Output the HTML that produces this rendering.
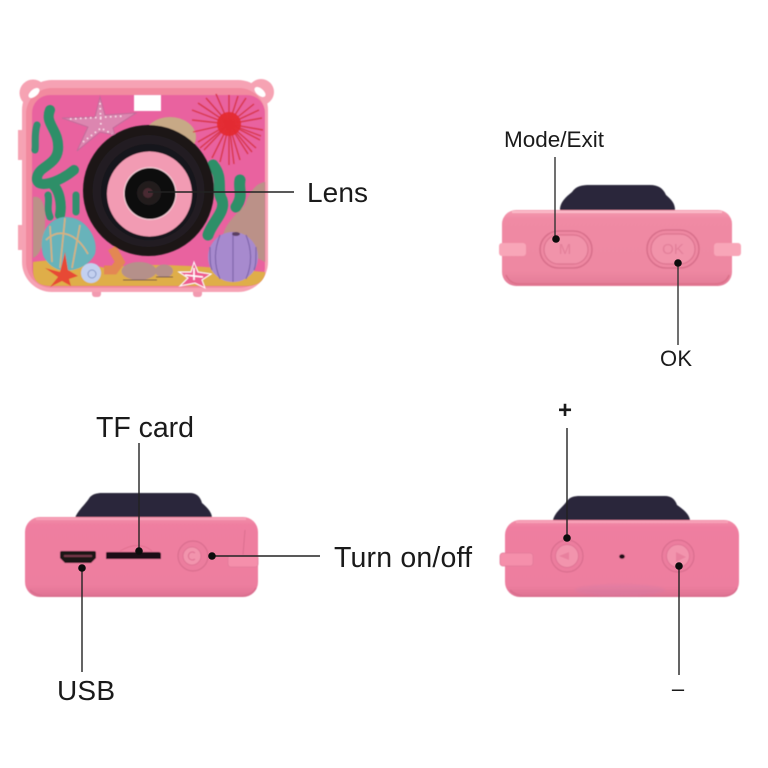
<!DOCTYPE html>
<html>
<head>
<meta charset="utf-8">
<style>
html,body{margin:0;padding:0;background:#fff;width:768px;height:768px;overflow:hidden}
svg{display:block}
text{font-family:"Liberation Sans",sans-serif;fill:#1a1a1a}
</style>
</head>
<body>
<svg width="768" height="768" viewBox="0 0 768 768" xmlns="http://www.w3.org/2000/svg">
<defs>
<linearGradient id="b1" x1="0" y1="0" x2="0" y2="1">
<stop offset="0" stop-color="#f59bb0"/><stop offset=".12" stop-color="#f08aa4"/><stop offset=".8" stop-color="#ee88a2"/><stop offset="1" stop-color="#e27b97"/>
</linearGradient>
<linearGradient id="b2" x1="0" y1="0" x2="0" y2="1">
<stop offset="0" stop-color="#f38fa9"/><stop offset=".1" stop-color="#ef7ea0"/><stop offset=".85" stop-color="#ed7e9f"/><stop offset="1" stop-color="#de7292"/>
</linearGradient>
<filter id="s"><feGaussianBlur stdDeviation=".5"/></filter>
<filter id="s2"><feGaussianBlur stdDeviation="1"/></filter>
</defs>

<!-- FRONT VIEW -->
<g filter="url(#s)">
<circle cx="33" cy="93" r="13.500" fill="#f6a3b3"/>
<circle cx="261" cy="92" r="13" fill="#f6a3b3"/>
<rect x="18" y="130" width="6" height="30" fill="#f6a3b3"/>
<rect x="18" y="225" width="6" height="25" fill="#f6a3b3"/>
<rect x="92" y="288" width="9" height="9" rx="3" fill="#f29ab0"/>
<rect x="193" y="288" width="9" height="9" rx="3" fill="#f29ab0"/>
<rect x="22" y="80" width="246" height="212" rx="30" fill="#f6a2b4"/>
<rect x="26" y="88" width="239" height="200" rx="26" fill="#f28a9f"/>
<rect x="32" y="95" width="233" height="191" rx="18" fill="#e9629f"/>
<ellipse cx="34" cy="93" rx="6.500" ry="3.500" fill="#fff" transform="rotate(-40 34 93)"/>
<ellipse cx="260" cy="92" rx="6.500" ry="3.500" fill="#fff" transform="rotate(40 260 92)"/>
</g>
<g filter="url(#s)">
<!-- sand -->
<path d="M33 262 C60 258 80 262 105 268 C150 262 200 266 265 272 L265 274 Q262 286 246 286 L50 286 Q34 286 33 272Z" fill="#dfae48"/>
<!-- rocks -->
<path d="M33 197 C42 195 46 205 45 225 C44 245 40 255 33 258Z" fill="#bb9188"/>
<path d="M265 182 C255 183 248 195 245 205 C232 218 222 228 223 240 L265 262Z" fill="#bb9188"/>
<!-- seaweed left -->
<path d="M50 110 C44 124 60 130 58 150 C56 166 38 166 37 178 C36 190 60 182 74 170 M52 184 C60 190 62 205 60 215" fill="none" stroke="#2d8f68" stroke-width="10" stroke-linecap="round"/>
<path d="M37 125 C34 135 36 145 35 150 M48 195 C50 203 46 208 50 217 M76 195 L76 212" fill="none" stroke="#338f6e" stroke-width="7" stroke-linecap="round"/>
<!-- seaweed right -->
<path d="M213 165 C224 178 216 190 222 200 C226 212 212 222 208 235 M240 180 C238 190 244 195 236 207" fill="none" stroke="#2d8f68" stroke-width="11" stroke-linecap="round"/>
<!-- pebbles -->
<ellipse cx="139" cy="271" rx="17.500" ry="9" fill="#b5908a"/>
<ellipse cx="164" cy="271" rx="9" ry="6.500" fill="#b5908a"/>
<path d="M123 280 h34 M156 277 h17" stroke="#6e4f48" stroke-width="1"/>
<!-- top shell -->
<ellipse cx="170" cy="137" rx="26" ry="20" fill="#c7a986"/>
<!-- flash -->
<rect x="134" y="95" width="27" height="16" fill="#fff"/>
<!-- starfish -->
<path d="M100 97 L105 115 L136 113 L113 128 L115 135 L100 132 L77 151 L88 127 L62 118 L95 117Z" fill="#dc86b0" stroke="#c26c9a" stroke-width="1"/>
<path d="M100 103 L101 128 M70 119 L125 116 M83 142 L101 128 L112 134" stroke="#fbe1ec" stroke-width="1.600" stroke-dasharray="1.500 3.500" fill="none"/>
<!-- urchin -->
<g stroke="#d8384f" stroke-width="1.400">
<path d="M229 124 L229 95 M229 124 L238 96 M229 124 L246 98 M229 124 L254 104 M229 124 L259 110 M229 124 L262 118 M229 124 L263 130 M229 124 L260 140 M229 124 L256 148 M229 124 L248 154 M229 124 L240 160 M229 124 L229 165 M229 124 L220 162 M229 124 L212 158 M229 124 L204 150 M229 124 L198 142 M229 124 L193 132 M229 124 L192 120 M229 124 L192 110 M229 124 L198 103 M229 124 L206 98 M229 124 L216 94 M229 124 L200 148 M229 124 L234 164 M229 124 L252 152 M229 124 L261 136"/>
</g>
<circle cx="229" cy="124" r="12" fill="#e4292f" opacity=".9"/>
<!-- shell -->
<path d="M43 255 C38 235 48 218 65 217 C85 216 99 238 95 254 C88 268 72 272 60 270 C52 268 46 262 43 255Z" fill="#68b3ba"/>
<path d="M46 240 C58 228 76 232 88 254 M65 218 L60 268 M50 226 L52 262 M80 225 L72 268" fill="none" stroke="#d9b27c" stroke-width="1.600"/>
<!-- red star -->
<path d="M65 252 L68 270 L78 276 L69 279 L71 286 L62 281 L50 287 L58 277 L45 268 L60 272Z" fill="#e74a34"/>
<!-- snail -->
<circle cx="91" cy="273" r="10" fill="#c3d0ef"/>
<circle cx="92" cy="274" r="4" fill="none" stroke="#8799c8" stroke-width="1"/>
<!-- orange coral -->
<path d="M112 248 L120 262 L114 270 L104 270" fill="none" stroke="#e38752" stroke-width="9"/>
<!-- pink star -->
<path d="M194 262 L198 272 L211 274 L202 280 L205 288 L195 283 L180 286 L188 278 L179 272 L191 272Z" fill="#ee5b8f" stroke="#fff" stroke-width="1"/>
<path d="M194 268 L194 280 M185 275 L203 277" stroke="#fff" stroke-width="1.600"/>
<!-- purple urchin -->
<circle cx="233" cy="257" r="25" fill="#a78ace"/>
<path d="M233 232 L233 282 M220 235 C214 250 214 265 220 279 M246 235 C252 250 252 265 246 279 M210 247 C210 260 210 265 212 270 M256 247 C256 260 256 265 254 270" fill="none" stroke="#7f65ab" stroke-width="1.200"/>
<ellipse cx="236" cy="234" rx="4" ry="2" fill="#5c3f63"/>
<!-- lens -->
<circle cx="148.500" cy="190.500" r="65.500" fill="#1a1619"/>
<circle cx="148.500" cy="191" r="56" fill="#221d20"/>
<circle cx="149" cy="192" r="48" fill="#17131a"/>
<circle cx="149.500" cy="194" r="42.500" fill="#f29bb3"/>
<circle cx="150" cy="193.500" r="26.500" fill="#f8d4dc"/>
<circle cx="150" cy="193.500" r="25.500" fill="#0f0d10"/>
<circle cx="149" cy="193" r="12" fill="#221c1f"/>
<circle cx="148" cy="193" r="5" fill="#4a2c30"/>
</g>
<line x1="148" y1="192" x2="294" y2="192" stroke="#222" stroke-width="1.400"/>

<!-- TOP RIGHT VIEW -->
<g filter="url(#s)">
<path d="M560 210 C560 202 566 197 572 192 C576 186 582 185 590 185 L650 185 C658 185 663 188 666 195 C672 200 675 204 675 210Z" fill="#29273a"/>
<rect x="502" y="210" width="230" height="76" rx="14" fill="url(#b1)"/>
<path d="M512 212 L722 212" stroke="#fbbcc9" stroke-width="2"/>
<path d="M506 275 Q510 284 520 284 L714 284 Q726 284 729 275" stroke="#dc7089" stroke-width="1.500" fill="none"/>
<rect x="499" y="243" width="27" height="13" rx="3" fill="#f8a6b8"/>
<rect x="714" y="243" width="27" height="13" rx="3" fill="#f8a6b8"/>
<rect x="540" y="231" width="52" height="37" rx="18.500" fill="#ee88a2" stroke="#d86f8b" stroke-width="1.600"/>
<rect x="544" y="235" width="44" height="29" rx="14.500" fill="#f193aa" stroke="#dc7590" stroke-width="1.200"/>
<rect x="647" y="230" width="52" height="38" rx="19" fill="#ee88a2" stroke="#d86f8b" stroke-width="1.600"/>
<rect x="651" y="234" width="44" height="30" rx="15" fill="#f193aa" stroke="#dc7590" stroke-width="1.200"/>
<text x="565" y="254" font-size="15" text-anchor="middle" style="fill:#e27f99">M</text>
<text x="673" y="254" font-size="15" text-anchor="middle" style="fill:#e27f99">OK</text>
</g>
<line x1="555" y1="157" x2="555" y2="239" stroke="#333" stroke-width="1.400"/>
<circle cx="556" cy="239" r="3.800" fill="#0c0c0c"/>
<line x1="678" y1="263" x2="678" y2="345" stroke="#333" stroke-width="1.400"/>
<circle cx="678" cy="263" r="3.800" fill="#0c0c0c"/>

<!-- BOTTOM LEFT VIEW -->
<g filter="url(#s)">
<path d="M75 518 C78 510 85 505 90 497 C93 494 97 493 102 493 L190 493 C196 493 200 496 202 503 C208 508 212 513 212 518Z" fill="#29273a"/>
<rect x="25" y="517" width="233" height="80" rx="15" fill="url(#b2)"/>
<path d="M36 519 L246 519" stroke="#f8a2b8" stroke-width="2"/>
<path d="M30 590 Q36 596 46 596 L240 596 Q252 596 256 588" stroke="#d96e8e" stroke-width="1.500" fill="none"/>
<path d="M245 530 L243 555" stroke="#d96e8e" stroke-width="1"/>
<rect x="228" y="555" width="30" height="12" rx="3" fill="#f58fab" stroke="#e27a99" stroke-width=".8"/>
<path d="M60 553 Q60 551 62 551 L94 551 Q96 551 96 553 L96 558 L91 563 L65 563 L60 558Z" fill="#1d1215"/>
<path d="M64 556 L92 556" stroke="#77394a" stroke-width="2"/>
<path d="M106 553 Q106 552 108 552 L158 552 Q161 552 161 554 L161 559 L106 559Z" fill="#1d0f13"/>
<path d="M120 551 Q139 540 152 551" stroke="#e0708e" stroke-width="1" fill="none"/>
<circle cx="193" cy="556" r="15" fill="#ec7d9e" stroke="#d96e8e" stroke-width="1.200"/>
<circle cx="192" cy="556" r="9" fill="#f294ad" stroke="#e07595" stroke-width="1"/>
<path d="M195 553 A4 4 0 1 0 195 559" fill="none" stroke="#e07595" stroke-width="1.200"/>
</g>
<line x1="139" y1="443" x2="139" y2="551" stroke="#222" stroke-width="1.400"/>
<circle cx="139" cy="551" r="3.800" fill="#0c0c0c"/>
<line x1="82" y1="568" x2="82" y2="672" stroke="#222" stroke-width="1.400"/>
<circle cx="82" cy="568" r="3.800" fill="#0c0c0c"/>
<line x1="212" y1="556" x2="320" y2="556" stroke="#222" stroke-width="1.400"/>
<circle cx="212" cy="556" r="3.800" fill="#0c0c0c"/>

<!-- BOTTOM RIGHT VIEW -->
<g filter="url(#s)">
<path d="M553 520 C555 512 562 508 567 501 C570 497 574 496 580 496 L665 496 C671 496 675 499 677 505 C684 510 689 514 690 520Z" fill="#29273a"/>
<rect x="505" y="520" width="234" height="77" rx="15" fill="url(#b2)"/>
<path d="M516 522 L728 522" stroke="#f8a2b8" stroke-width="2"/>
<path d="M510 590 Q516 596 526 596 L722 596 Q734 596 737 588" stroke="#d96e8e" stroke-width="1.500" fill="none"/>
<rect x="500" y="553" width="33" height="13" rx="3" fill="#f58fab" stroke="#e27a99" stroke-width=".8"/>
<circle cx="567" cy="556" r="16" fill="#ec7d9e" stroke="#d96e8e" stroke-width="1.200"/>
<circle cx="567" cy="556" r="11.500" fill="#f294ad" stroke="#e07595" stroke-width="1"/>
<path d="M559 556 L569 552 L569 560Z" fill="#e8809e"/>
<circle cx="678" cy="556" r="16" fill="#ec7d9e" stroke="#d96e8e" stroke-width="1.200"/>
<circle cx="678" cy="556" r="11.500" fill="#f294ad" stroke="#e07595" stroke-width="1"/>
<path d="M686 557 L676 552 L676 562Z" fill="#e8809e"/>
<ellipse cx="622" cy="556.500" rx="2.800" ry="2.300" fill="#1c1014"/>
<ellipse cx="620" cy="590" rx="45" ry="6" fill="#d07ca8" opacity=".3" filter="url(#s2)"/>
</g>
<line x1="567" y1="428" x2="567" y2="538" stroke="#222" stroke-width="1.400"/>
<circle cx="567" cy="538" r="3.800" fill="#0c0c0c"/>
<line x1="679" y1="566" x2="679" y2="675" stroke="#222" stroke-width="1.400"/>
<circle cx="679" cy="566" r="3.800" fill="#0c0c0c"/>

<!-- LABELS -->
<text x="307" y="202" font-size="28" textLength="61">Lens</text>
<text x="504" y="147" font-size="22.500" textLength="100">Mode/Exit</text>
<text x="660" y="366" font-size="22" textLength="32">OK</text>
<text x="96" y="437" font-size="28.500" textLength="98">TF card</text>
<text x="334" y="567" font-size="28.500" textLength="138">Turn on/off</text>
<text x="57" y="700" font-size="28" textLength="58">USB</text>
<text x="565" y="418" font-size="24" font-weight="bold" text-anchor="middle">+</text>
<text x="678" y="696" font-size="22" text-anchor="middle">–</text>
</svg>
</body>
</html>
